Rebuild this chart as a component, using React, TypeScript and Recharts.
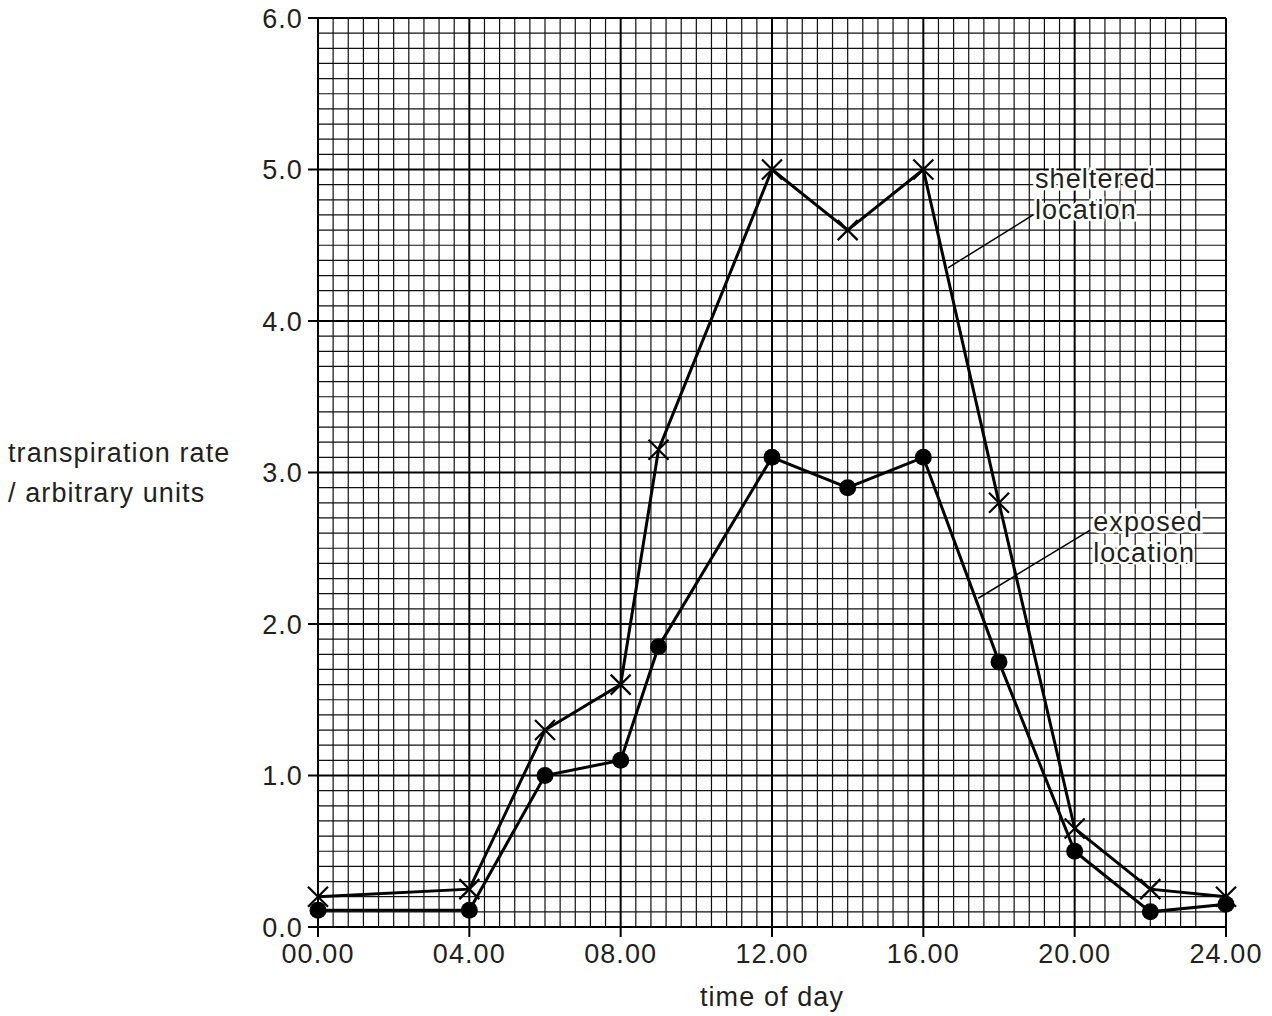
import React from "react";
import {
  LineChart,
  Line,
  XAxis,
  YAxis,
  CartesianGrid,
  ReferenceLine,
  ReferenceDot,
} from "recharts";

const hours = [0, 4, 6, 8, 9, 12, 14, 16, 18, 20, 22, 24];
const sheltered = [0.2, 0.25, 1.3, 1.6, 3.15, 5.0, 4.6, 5.0, 2.8, 0.65, 0.25, 0.2];
const exposed = [0.11, 0.11, 1.0, 1.1, 1.85, 3.1, 2.9, 3.1, 1.75, 0.5, 0.1, 0.15];

const xTicks = [0, 4, 8, 12, 16, 20, 24];
const xTickLabels = ["00.00", "04.00", "08.00", "12.00", "16.00", "20.00", "24.00"];
const yTicks = [0, 1, 2, 3, 4, 5, 6];
const yTickLabels = ["0.0", "1.0", "2.0", "3.0", "4.0", "5.0", "6.0"];

// minor graph-paper lines: 0.4 h and 0.1 units
const xMinor: number[] = [];
for (let i = 0; i <= 60; i++) xMinor.push(+(i * 0.4).toFixed(2));
const yMinor: number[] = [];
for (let i = 0; i <= 60; i++) yMinor.push(+(i * 0.1).toFixed(2));

const data = hours.map((h, i) => ({ hour: h, sheltered: sheltered[i], exposed: exposed[i] }));

const FONT = "'Liberation Sans', Arial, sans-serif";
const TEXT = "#231f20";
const FS = 27;
const LS = 1.1;

const shelteredLeader = [
  { x: 18.9, y: 4.7 },
  { x: 16.65, y: 4.35 },
];
const exposedLeader = [
  { x: 20.41, y: 2.62 },
  { x: 17.45, y: 2.17 },
];

function Cross(props: any) {
  const { cx, cy, index } = props;
  const s = 10;
  return (
    <path
      key={`x-${index}`}
      d={`M${cx - s},${cy - s}L${cx + s},${cy + s}M${cx - s},${cy + s}L${cx + s},${cy - s}`}
      stroke="#000"
      strokeWidth={2.2}
      fill="none"
    />
  );
}

function Blob(props: any) {
  const { cx, cy, index } = props;
  return <circle key={`o-${index}`} cx={cx} cy={cy} r={8.5} fill="#000" />;
}

function note(lines: string[]) {
  return (props: any) => {
    const { viewBox } = props;
    return (
      <g>
        {lines.map((t, i) => (
          <text
            key={t}
            x={viewBox.x}
            y={viewBox.y + i * 31}
            fontFamily={FONT}
            fontSize={FS}
            letterSpacing={LS}
            fill={TEXT}
            stroke="#fff"
            strokeWidth={5}
            paintOrder="stroke"
            dominantBaseline="central"
          >
            {t}
          </text>
        ))}
      </g>
    );
  };
}

function YTitle() {
  return (
    <g fontFamily={FONT} fontSize={FS} fill={TEXT} letterSpacing={LS}>
      <text x={8} y={453} dominantBaseline="central">transpiration rate</text>
      <text x={8} y={493} dominantBaseline="central">/ arbitrary units</text>
    </g>
  );
}

function XTitle() {
  return (
    <text
      x={772}
      y={997}
      textAnchor="middle"
      dominantBaseline="central"
      fontFamily={FONT}
      fontSize={FS}
      letterSpacing={LS}
      fill={TEXT}
    >
      time of day
    </text>
  );
}

const tickStyle = { fill: TEXT, fontSize: FS, fontFamily: FONT, letterSpacing: LS };

export default function App() {
  return (
    <div style={{ position: "absolute", left: 0, top: 0, background: "#fff" }}>
      <LineChart width={1272} height={1016} data={data} margin={{ top: 18, right: 46, left: 0, bottom: 0 }}>
        <CartesianGrid
          horizontalValues={yMinor}
          verticalValues={xMinor}
          stroke="#111"
          strokeWidth={1.2}
        />
        <CartesianGrid stroke="#000" strokeWidth={2} />
        <XAxis
          dataKey="hour"
          type="number"
          domain={[0, 24]}
          ticks={xTicks}
          tickFormatter={(v: number) => xTickLabels[xTicks.indexOf(v)]}
          height={89}
          tickSize={10}
          tickMargin={7}
          axisLine={{ stroke: "#000", strokeWidth: 2 }}
          tickLine={{ stroke: "#000", strokeWidth: 2 }}
          tick={tickStyle}
          label={{ content: () => <XTitle /> }}
        />
        <YAxis
          type="number"
          domain={[0, 6]}
          ticks={yTicks}
          tickFormatter={(v: number) => yTickLabels[yTicks.indexOf(v)]}
          width={318}
          tickSize={10}
          tickMargin={5}
          axisLine={{ stroke: "#000", strokeWidth: 2 }}
          tickLine={{ stroke: "#000", strokeWidth: 2 }}
          tick={tickStyle}
          label={{ content: () => <YTitle /> }}
        />
        <ReferenceLine segment={shelteredLeader} stroke="#000" strokeWidth={1.5} />
        <ReferenceLine segment={exposedLeader} stroke="#000" strokeWidth={1.5} />
        <Line
          dataKey="sheltered"
          type="linear"
          stroke="#000"
          strokeWidth={3}
          dot={Cross}
          activeDot={false}
          isAnimationActive={false}
        />
        <Line
          dataKey="exposed"
          type="linear"
          stroke="#000"
          strokeWidth={3}
          dot={Blob}
          activeDot={false}
          isAnimationActive={false}
        />
        <ReferenceDot x={18.95} y={4.94} r={0} fill="none" stroke="none" label={{ content: note(["sheltered", "location"]) }} />
        <ReferenceDot x={20.49} y={2.67} r={0} fill="none" stroke="none" label={{ content: note(["exposed", "location"]) }} />
      </LineChart>
    </div>
  );
}
